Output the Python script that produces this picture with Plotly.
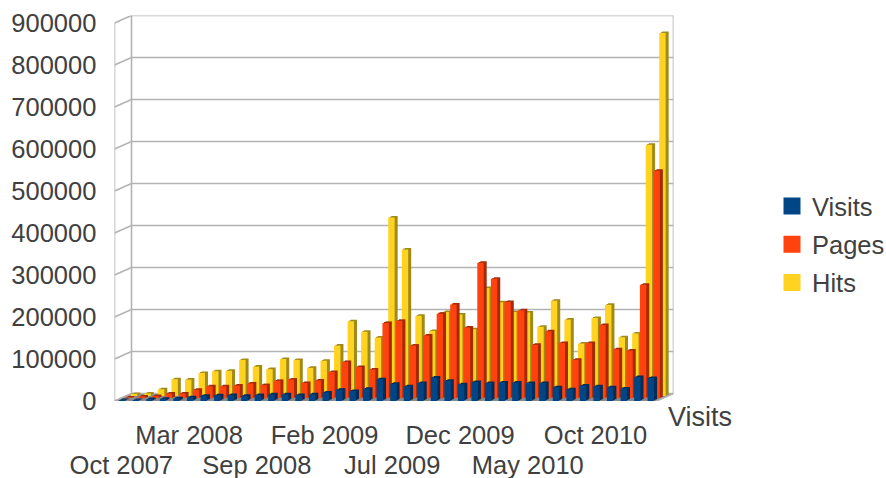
import plotly.graph_objects as go

W, H = 886, 478
FONT = "Liberation Sans"
TEXT = "#404040"
FS = 25.5

months = ["Oct 2007","Nov 2007","Dec 2007","Jan 2008","Feb 2008","Mar 2008","Apr 2008","May 2008","Jun 2008","Aug 2008",
          "Sep 2008","Oct 2008","Nov 2008","Dec 2008","Jan 2009","Feb 2009","Mar 2009","Apr 2009","May 2009","Jun 2009",
          "Jul 2009","Aug 2009","Sep 2009","Oct 2009","Nov 2009","Dec 2009","Jan 2010","Feb 2010","Mar 2010","Apr 2010",
          "May 2010","Jun 2010","Jul 2010","Aug 2010","Sep 2010","Oct 2010","Nov 2010","Dec 2010","Jan 2011","Feb 2011"]
visits = [2000,2000,3000,5500,6500,9000,12500,13500,14000,12500,14000,16000,16000,14000,16000,20000,27000,24000,29000,52000,
          41000,35000,43000,56000,48000,40000,45000,43000,44000,44000,43000,43000,33000,28000,37000,35000,33000,30000,57000,55000]
pages = [2000,4000,6000,12000,12000,21000,29000,29000,31000,36000,32000,42000,45000,37000,43000,63000,87000,75000,69000,180000,
         185000,126000,150000,202000,224000,169000,323000,285000,230000,210000,128000,160000,132000,92000,132000,175000,117000,114000,271000,542000]
hits = [5000,6000,16000,40000,39000,55000,59000,60000,86000,70000,64000,88000,86000,67000,84000,120000,178000,153000,139000,425000,
        349000,191000,155000,200000,194000,159000,257000,223000,200000,199000,165000,227000,182000,125000,186000,217000,140000,149000,598000,864000]
y_ticks = [0,100000,200000,300000,400000,500000,600000,700000,800000,900000]
series = [("Hits", hits, "#ffd320", "#a08a18", 2), ("Pages", pages, "#ff420e", "#a52a08", 1), ("Visits", visits, "#004586", "#002c58", 0)]
label_idx_row1 = [5, 15, 25, 35]
label_idx_row2 = [0, 10, 20, 30]

# geometry (pixels)
FX0, FX1, FY0, FY1 = 114.5, 656.5, 401.0, 23.0     # front plane
DEPTH_X, DEPTH_Y = 17.0, 7.5
N = len(months)
CAT = (FX1 - FX0) / N
VAL = (FY0 - FY1) / y_ticks[-1]
DC = DEPTH_X / CAT
DV = DEPTH_Y / VAL
SER_DX, SER_DY = 5.8, 2.5
BAR_W, BAR_OFF = 6.4 / CAT, 4.7 / CAT

def xdom(a, b): return [a / W, b / W]
def ydom(bottom, top): return [(H - bottom) / H, (H - top) / H]

fig = go.Figure()
vmax = y_ticks[-1]
def proj(c, v, d):
    return c + d * DC, v + d * DV

# floor
fx, fy = zip(*[proj(0,0,0), proj(N,0,0), proj(N,0,1), proj(0,0,1), proj(0,0,0)])
fig.add_trace(go.Scatter(x=fx, y=fy, mode="lines", fill="toself", fillcolor="#8a8a8a",
                         line=dict(color="#8a8a8a", width=1), showlegend=False, hoverinfo="skip"))
# walls and grid
gx, gy = [], []
for t in y_ticks:
    for c, v, d in [(0,t,0),(0,t,1),(N,t,1)]:
        a, b = proj(c, v, d); gx.append(a); gy.append(b)
    gx.append(None); gy.append(None)
for c, d in [(0,0),(0,1),(N,1)]:
    for t in (0, vmax):
        a, b = proj(c, t, d); gx.append(a); gy.append(b)
    gx.append(None); gy.append(None)
a, b = proj(N,0,1); gx.append(a); gy.append(b)
a, b = proj(N,0,0); gx.append(a); gy.append(b)
fig.add_trace(go.Scatter(x=gx, y=gy, mode="lines", line=dict(color="#b3b3b3", width=1.6),
                         showlegend=False, hoverinfo="skip"))
# carrier for the second row of category labels
fig.add_trace(go.Scatter(x=[0], y=[0], xaxis="x2", yaxis="y", mode="markers", marker=dict(opacity=0),
                         showlegend=False, hoverinfo="skip"))

xr = [0, N + DC]
yr = [0, vmax + DV]
layout = dict(
    width=W, height=H, margin=dict(l=0, r=0, t=0, b=0, autoexpand=False), paper_bgcolor="white", plot_bgcolor="rgba(0,0,0,0)",
    font=dict(family=FONT, size=FS, color=TEXT), barmode="overlay",
    showlegend=True,
    legend=dict(x=780.5/W, y=(H-183)/H, xanchor="left", yanchor="top", tracegroupgap=2, indentation=-8.5,
                bgcolor="rgba(0,0,0,0)", traceorder="grouped", font=dict(size=FS, family=FONT, color=TEXT)),
    xaxis=dict(domain=xdom(FX0, FX1 + DEPTH_X), range=xr, showgrid=False, zeroline=False, showline=False,
               tickmode="array", tickvals=[i + 0.5 for i in label_idx_row1], ticktext=[months[i] for i in label_idx_row1],
               ticks="outside", ticklen=11, tickcolor="rgba(0,0,0,0)", tickangle=0),
    yaxis=dict(domain=ydom(FY0, FY1 - DEPTH_Y), range=yr, showgrid=False, zeroline=False, showline=False,
               tickmode="array", tickvals=y_ticks, ticktext=[str(t) for t in y_ticks],
               ticks="outside", ticklen=12, tickcolor="rgba(0,0,0,0)"),
    xaxis2=dict(overlaying="x", anchor="y", range=xr, showgrid=False, zeroline=False, showline=False,
                tickmode="array", tickvals=[i + 0.5 for i in label_idx_row2], ticktext=[months[i] for i in label_idx_row2],
                ticks="outside", ticklen=41, tickcolor="rgba(0,0,0,0)", tickangle=0),
)
ax = 3
for name, vals, face, side, depth in series:
    for lx, ly, col in [(3.0, 1.5, side), (1.5, 0.8, side), (0, 0, face)]:
        dx = depth * SER_DX + lx
        dy = depth * SER_DY + ly
        xa, ya = f"x{ax}", f"y{ax}"
        layout[f"xaxis{ax}"] = dict(domain=xdom(FX0 + dx, FX1 + dx), range=[0, N], visible=False, anchor=ya)
        layout[f"yaxis{ax}"] = dict(domain=ydom(FY0 - dy, FY1 - dy), range=[0, vmax], visible=False, anchor=xa)
        fig.add_trace(go.Bar(x=list(range(N)), y=vals, width=BAR_W, offset=BAR_OFF, xaxis=xa, yaxis=ya,
                             marker=dict(color=col, line=dict(width=0)), showlegend=False, name=name))
        ax += 1
    # legend entry
    fig.add_trace(go.Bar(x=[0], y=[None], xaxis=f"x{ax-1}", yaxis=f"y{ax-1}", name=name, legendgroup=name,
                         legendrank=depth + 1, marker=dict(color=face, line=dict(color=face, width=5))))

layout["annotations"] = [dict(text="Visits", xref="paper", yref="paper", x=666/W, y=(H-417)/H, xanchor="left", yanchor="middle",
                              showarrow=False, font=dict(size=27, family=FONT, color=TEXT))]
fig.update_layout(**layout)
fig.write_html("out.html", config=dict(displayModeBar=False),
               post_script="document.body.style.margin='0';document.documentElement.style.overflow='hidden';")
